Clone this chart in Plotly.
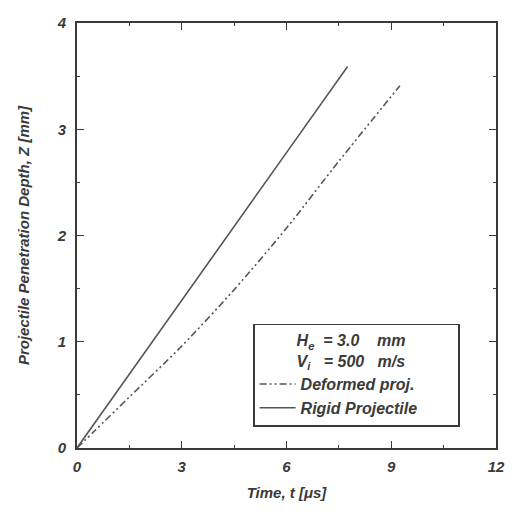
import plotly.graph_objects as go

# Data
t_rigid = [0.0, 2.0, 4.0, 6.0, 7.75]
z_rigid = [0.0, 0.93, 1.86, 2.78, 3.59]

t_deformed = [0.0, 0.5, 1.5, 3.0, 4.5, 6.0, 7.5, 9.25]
z_deformed = [0.0, 0.16, 0.48, 0.96, 1.49, 2.07, 2.70, 3.41]

x_ticks = [0, 3, 6, 9, 12]
y_ticks = [0, 1, 2, 3, 4]

ink = "#3a3a3a"
font_family = "Liberation Sans"

fig = go.Figure()
fig.add_trace(go.Scatter(
    x=t_deformed, y=z_deformed, mode="lines", name="Deformed proj.",
    line=dict(color="#555555", width=1.6, dash="7px,3px,2px,3px,2px,3px",
              shape="spline", smoothing=0.8),
))
fig.add_trace(go.Scatter(
    x=t_rigid, y=z_rigid, mode="lines", name="Rigid Projectile" + "&nbsp;" * 8,
    line=dict(color="#555555", width=1.6),
))

axis_common = dict(
    showline=True, linecolor=ink, linewidth=1.6, mirror="ticks",
    ticks="inside", ticklen=7, tickwidth=1.4, tickcolor=ink,
    showgrid=False, zeroline=False,
    tickfont=dict(family=font_family, size=15, color=ink, style="italic", weight="bold"),
)

title_font = dict(family=font_family, size=15, color=ink, style="italic", weight="bold")

fig.update_xaxes(
    range=[0, 12], tickvals=x_ticks, ticktext=[str(v) for v in x_ticks],
    minor=dict(ticks="inside", ticklen=3, tickwidth=1.2, tickcolor=ink, dtick=1.5, tick0=0),
    title=dict(text="Time, t [μs]", standoff=14, font=title_font),
    ticklabelstandoff=4,
    **axis_common,
)
fig.update_yaxes(
    range=[0, 4], tickvals=y_ticks, ticktext=[str(v) for v in y_ticks],
    minor=dict(ticks="inside", ticklen=3, tickwidth=1.2, tickcolor=ink, dtick=0.5, tick0=0),
    title=dict(text="Projectile Penetration Depth, Z [mm]", standoff=24, font=title_font),
    ticklabelstandoff=6,
    **axis_common,
)

legend_font = dict(family=font_family, size=16, color=ink, style="italic", weight="bold")
pad = "&nbsp;" * 9
fig.update_layout(
    width=517, height=518,
    margin=dict(l=77, r=21, t=23, b=70),
    paper_bgcolor="white", plot_bgcolor="white",
    showlegend=True,
    legend=dict(
        x=0.42, y=0.292, xanchor="left", yanchor="top",
        bgcolor="white", bordercolor=ink, borderwidth=1.6,
        font=legend_font,
        title=dict(
            text=pad + "H<sub>e</sub>&nbsp; = 3.0&nbsp;&nbsp;&nbsp; mm<br>"
                 + pad + "V<sub>i</sub>&nbsp;&nbsp; = 500&nbsp;&nbsp; m/s",
            font=legend_font,
        ),
        itemwidth=36, tracegroupgap=0,
    ),
)

fig.write_html("out.html")
